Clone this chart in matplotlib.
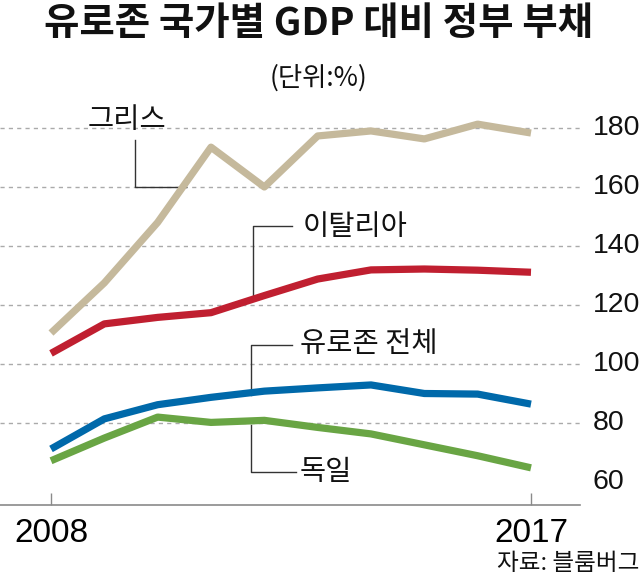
import matplotlib
matplotlib.use("Agg")
import matplotlib.pyplot as plt
from matplotlib import font_manager as fm

years = [2008, 2009, 2010, 2011, 2012, 2013, 2014, 2015, 2016, 2017]
greece = [110.5, 127.5, 148.0, 173.5, 160.0, 177.3, 179.0, 176.3, 181.3, 178.3]
italy = [103.6, 113.6, 115.8, 117.4, 123.2, 128.8, 131.9, 132.2, 131.8, 131.1]
eurozone = [71.2, 81.4, 86.2, 88.7, 90.8, 91.9, 92.9, 90.0, 89.8, 86.4]
germany = [67.2, 74.9, 82.0, 80.2, 80.9, 78.5, 76.3, 72.6, 68.9, 64.8]

series_names = ["그리스", "이탈리아", "유로존 전체", "독일"]
series_colors = ["#C5B99C", "#C01F30", "#0069AA", "#69A544"]

y_ticks = [60, 80, 100, 120, 140, 160, 180]
x_ticks = [2008, 2017]

title = "유로존 국가별 GDP 대비 정부 부채"
subtitle = "(단위:%)"
source = "자료: 블룸버그"

names = {f.name for f in fm.fontManager.ttflist}
num_font = "Liberation Sans Narrow" if "Liberation Sans Narrow" in names else "Liberation Sans"
KR = ["Noto Sans CJK KR", "DejaVu Sans"]

W, H = 640, 574
fig = plt.figure(figsize=(W / 100, H / 100), dpi=100)
ax_left, ax_right, ax_top, ax_bot = 0, 580, 100, 505
ax = fig.add_axes([ax_left / W, (H - ax_bot) / H, (ax_right - ax_left) / W, (ax_bot - ax_top) / H])

ppy = (531 - 51) / 9.0
ax.set_xlim(2008 - 51 / ppy, 2017 + (580 - 531) / ppy)
ppu = (423 - 128) / 100.0
ax.set_ylim(80 - (505 - 423) / ppu, 180 + (128 - 100) / ppu)

for s in ["top", "right", "left"]:
    ax.spines[s].set_visible(False)
ax.spines["bottom"].set_color("#8a8a8a")
ax.spines["bottom"].set_linewidth(1.2)

for v in y_ticks:
    if v == 60:
        continue
    ax.axhline(v, color="#aaaaaa", lw=1.0, ls=(0, (3, 3)), zorder=1)

data = [greece, italy, eurozone, germany]
for vals, c in zip(data, series_colors):
    ax.plot(years, vals, color=c, lw=5.2, solid_capstyle="butt", solid_joinstyle="round", zorder=3)

ax.set_xticks(x_ticks)
ax.set_xticklabels([str(t) for t in x_ticks], fontfamily=num_font, fontsize=24)
ax.tick_params(axis="x", direction="in", length=8.5, width=1, color="#8a8a8a", pad=9)
ax.set_yticks([])

for v in y_ticks:
    fig.text(593 / W, 1 - (128 + (180 - v) * ppu) / H, str(v), fontfamily=num_font,
             fontsize=20.5, ha="left", va="center", color="#111111")

# leader lines and labels
lc = "#333333"
ax.plot([2009.575, 2009.575, 2010.53], [176.0, 160.0, 160.0], color=lc, lw=1.0, zorder=2)
ax.plot([2012.52, 2011.79, 2011.79], [146.8, 146.8, 122.8], color=lc, lw=1.0, zorder=2)
ax.plot([2012.52, 2011.75, 2011.75], [106.4, 106.4, 89.6], color=lc, lw=1.0, zorder=2)
ax.plot([2011.75, 2011.75, 2012.6], [79.4, 63.4, 63.4], color=lc, lw=1.0, zorder=2)

fs_lab = 20.5
ax.text(2009.43, 182.6, series_names[0], family=KR, fontsize=fs_lab, ha="center", va="center", color="#111111")
ax.text(2012.72, 146.4, series_names[1], family=KR, fontsize=fs_lab, ha="left", va="center", color="#111111")
ax.text(2012.66, 106.7, series_names[2], family=KR, fontsize=fs_lab, ha="left", va="center", color="#111111")
ax.text(2012.66, 63.3, series_names[3], family=KR, fontsize=fs_lab, ha="left", va="center", color="#111111")

fig.text(318 / W, 1 - 24 / H, title, family=KR, fontsize=27.7, fontweight="bold", ha="center", va="center", color="#111111")
fig.text(318 / W, 1 - 78 / H, subtitle, family=KR, fontsize=19, ha="center", va="center", color="#111111")
fig.text(639 / W, 1 - 564 / H, source, family=KR, fontsize=17, ha="right", va="center", color="#111111")

fig.savefig("out.png", dpi=100)
